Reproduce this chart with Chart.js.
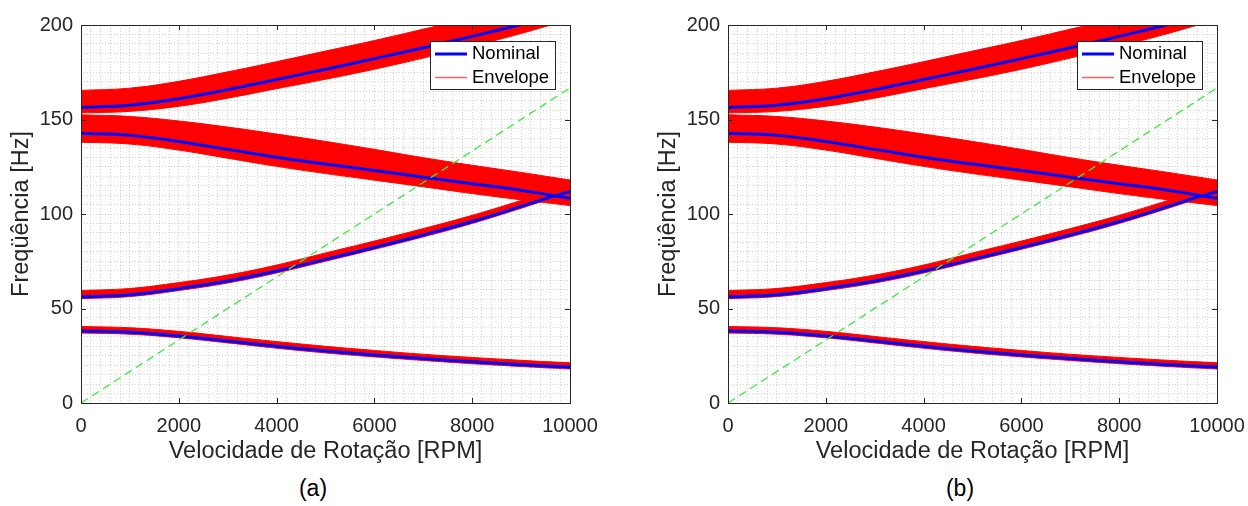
<!DOCTYPE html>
<html>
<head>
<meta charset="utf-8">
<script src="https://cdn.jsdelivr.net/npm/chart.js@4.4.1/dist/chart.umd.min.js"></script>
<style>
    body { margin: 0; background: #fff; width: 1248px; height: 506px; overflow: hidden; position: relative;
           font-family: "Liberation Sans", Arial, sans-serif; }
    .plot { position: absolute; top: 0; width: 600px; height: 470px; }
    .cap { position: absolute; top: 475px; width: 100px; text-align: center; font-size: 23px; color: #000; }
</style>
</head>
<body>
<div class="plot" style="left:0"><canvas id="chartA" width="600" height="470"></canvas></div>
<div class="plot" style="left:647px"><canvas id="chartB" width="600" height="470"></canvas></div>
<div class="cap" style="left:263px">(a)</div>
<div class="cap" style="left:910px">(b)</div>
<script>
// Rotation speed samples [RPM]
const rpm = [0, 1000, 2000, 3000, 4000, 5000, 6000, 7000, 8000, 9000, 9500, 10000];

// Natural frequencies [Hz]
const mode1Nominal = [38.1, 37.4, 35.5, 32.8, 30.0, 27.5, 25.4, 23.5, 21.8, 20.3, 19.6, 19.0];
const mode1Upper   = [40.5, 39.8, 37.9, 35.2, 32.5, 30.0, 27.8, 25.8, 24.1, 22.6, 21.9, 21.3];
const mode1Lower   = [37.0, 36.4, 34.5, 31.8, 29.0, 26.5, 24.4, 22.5, 20.8, 19.3, 18.6, 18.0];

const mode2Nominal = [56.2, 57.3, 60.5, 64.5, 69.8, 76.0, 82.3, 88.9, 96.0, 104.0, 108.2, 111.8];
const mode2Upper   = [59.5, 60.6, 63.7, 67.7, 73.0, 79.4, 85.7, 92.3, 99.3, 107.2, 111.4, 114.8];
const mode2Lower   = [55.2, 56.3, 59.5, 63.5, 68.8, 75.0, 81.3, 87.9, 95.0, 103.0, 107.2, 110.8];

const mode3Nominal = [142.7, 141.6, 138.4, 134.2, 130.0, 126.4, 123.0, 119.5, 116.0, 112.6, 110.5, 108.3];
const mode3Upper   = [152.5, 151.6, 149.2, 146.0, 142.3, 138.4, 134.2, 129.8, 125.8, 122.0, 120.0, 118.0];
const mode3Lower   = [138.0, 137.0, 133.8, 129.5, 125.2, 121.4, 117.9, 114.4, 110.8, 107.5, 106.0, 104.5];

const mode4Nominal = [156.4, 157.6, 161.0, 165.8, 171.2, 176.6, 182.2, 188.0, 194.0, 200.2, 203.3, 206.5];
const mode4Upper   = [165.4, 166.6, 170.2, 175.2, 180.6, 186.2, 191.8, 197.8, 203.8, 210.0, 213.0, 216.0];
const mode4Lower   = [153.5, 154.3, 157.0, 161.3, 166.3, 171.3, 176.6, 182.5, 188.7, 195.5, 199.2, 202.5];

// 1x rotation line
const guideRpm = [0, 10000];
const guideHz = [0, 166.7];

// Axis ticks and texts
const xTicks = [0, 2000, 4000, 6000, 8000, 10000];
const yTicks = [0, 50, 100, 150, 200];
const legendLabels = ['Nominal', 'Envelope'];
const xTitle = 'Velocidade de Rotação [RPM]';
const yTitle = 'Freqüência [Hz]';

const FONT = '"Liberation Sans", Arial, sans-serif';
const TEXT = '#262626';

const toPoints = (xs, ys) => xs.map((x, i) => ({ x: x, y: ys[i] }));

function buildDatasets() {
    const modes = [
        [mode1Nominal, mode1Upper, mode1Lower],
        [mode2Nominal, mode2Upper, mode2Lower],
        [mode3Nominal, mode3Upper, mode3Lower],
        [mode4Nominal, mode4Upper, mode4Lower]
    ];
    const sets = [{
        label: 'guide',
        data: toPoints(guideRpm, guideHz),
        borderColor: 'rgb(60,235,60)',
        borderWidth: 1.3,
        borderDash: [8, 5],
        order: 0
    }];
    modes.forEach(([nom]) => {
        sets.push({ label: 'Nominal', data: toPoints(rpm, nom), borderColor: '#0000ff', borderWidth: 3, order: 1 });
    });
    modes.forEach(([, up, lo]) => {
        // upper edge filled down to the lower edge (next dataset)
        sets.push({ label: 'Envelope', data: toPoints(rpm, up), borderColor: '#ff0000', backgroundColor: '#ff0000',
                    borderWidth: 1, fill: '+1', order: 2 });
        sets.push({ label: 'Envelope', data: toPoints(rpm, lo), borderColor: '#ff0000',
                    borderWidth: 1, fill: false, order: 2 });
    });
    return sets;
}

// MATLAB style box, inward ticks and boxed legend
const matlabAxes = {
    id: 'matlabAxes',
    afterDraw(chart) {
        const { ctx, chartArea: a, scales: { x, y } } = chart;
        const line = (x1, y1, x2, y2) => { ctx.beginPath(); ctx.moveTo(x1, y1); ctx.lineTo(x2, y2); ctx.stroke(); };
        ctx.save();
        ctx.strokeStyle = TEXT;
        ctx.lineWidth = 1;
        xTicks.forEach(v => {
            const px = Math.round(x.getPixelForValue(v)) + 0.5;
            line(px, a.bottom, px, a.bottom - 5);
            line(px, a.top, px, a.top + 5);
        });
        yTicks.forEach(v => {
            const py = Math.round(y.getPixelForValue(v)) + 0.5;
            line(a.left, py, a.left + 5, py);
            line(a.right, py, a.right - 5, py);
        });
        ctx.strokeRect(Math.round(a.left) + 0.5, Math.round(a.top) + 0.5, Math.round(a.width), Math.round(a.height));

        // legend
        const bx = Math.round(a.right) - 140, by = Math.round(a.top) + 16, bw = 125, bh = 48;
        ctx.fillStyle = '#fff';
        ctx.fillRect(bx, by, bw, bh);
        ctx.strokeRect(bx + 0.5, by + 0.5, bw, bh);
        ctx.strokeStyle = '#0000ff';
        ctx.lineWidth = 3;
        line(bx + 5, by + 13, bx + 37, by + 13);
        ctx.strokeStyle = '#ff6060';
        ctx.lineWidth = 1.5;
        line(bx + 5, by + 36.5, bx + 37, by + 36.5);
        ctx.fillStyle = '#000';
        ctx.font = '18.5px ' + FONT;
        ctx.textBaseline = 'middle';
        ctx.fillText(legendLabels[0], bx + 42, by + 13);
        ctx.fillText(legendLabels[1], bx + 42, by + 37);
        ctx.restore();
    }
};

function makeChart(id) {
    const gridOpts = { color: 'rgba(38,38,38,0.2)', lineWidth: 1, drawTicks: false };
    const borderOpts = { display: false, dash: [1, 2] };
    return new Chart(document.getElementById(id), {
        type: 'line',
        data: { datasets: buildDatasets() },
        options: {
            responsive: false,
            animation: false,
            layout: { padding: { top: 25, right: 30, bottom: 0, left: 0 } },
            elements: {
                point: { radius: 0 },
                line: { tension: 0.4 }
            },
            plugins: { legend: { display: false }, tooltip: { enabled: false } },
            scales: {
                x: {
                    type: 'linear', min: 0, max: 10000,
                    afterFit: s => { s.height = 67; s.paddingLeft = 0; s.paddingRight = 0; },
                    grid: gridOpts, border: borderOpts,
                    ticks: {
                        stepSize: 200, autoSkip: false, maxRotation: 0, padding: 11,
                        color: TEXT, font: { family: FONT, size: 20 },
                        callback: v => (v % 2000 === 0 ? String(v) : '')
                    },
                    title: { display: true, text: xTitle, color: TEXT, font: { family: FONT, size: 23.5 },
                             padding: { top: 0, bottom: 4 } }
                },
                y: {
                    type: 'linear', min: 0, max: 200,
                    afterFit: s => { s.width = 81; s.paddingTop = 0; s.paddingBottom = 0; },
                    grid: gridOpts, border: borderOpts,
                    ticks: {
                        stepSize: 5, autoSkip: false, padding: 8,
                        color: TEXT, font: { family: FONT, size: 20 },
                        callback: v => (v % 50 === 0 ? String(v) : '')
                    },
                    title: { display: true, text: yTitle, color: TEXT, font: { family: FONT, size: 23.5 },
                             padding: { top: 7, bottom: 0 } }
                }
            }
        },
        plugins: [matlabAxes]
    });
}

makeChart('chartA');
makeChart('chartB');
</script>
</body>
</html>
